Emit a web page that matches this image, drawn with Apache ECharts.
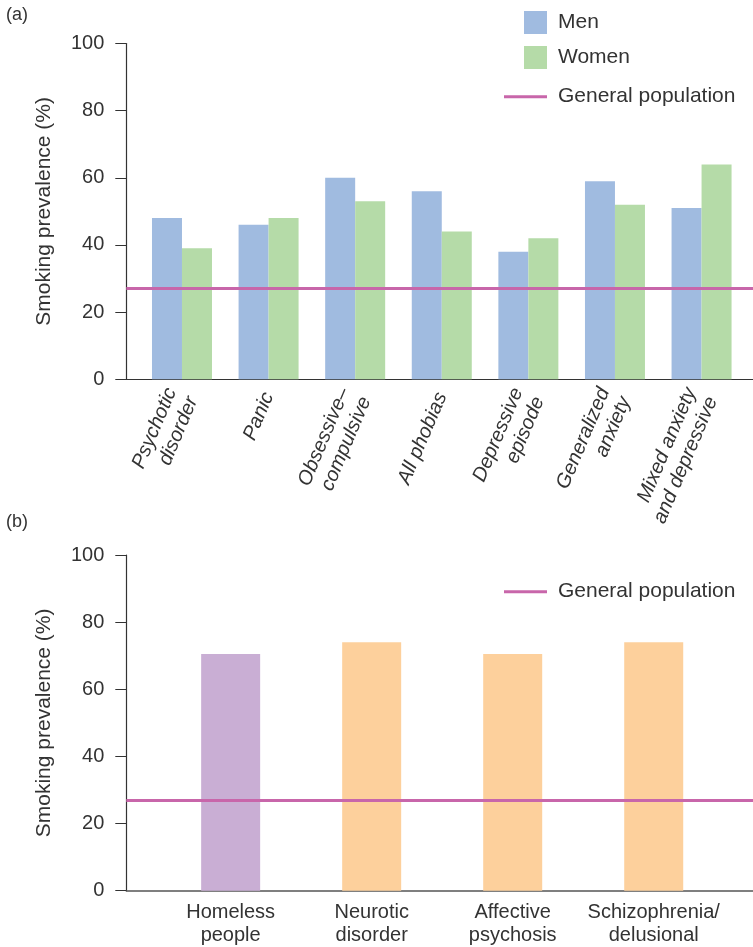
<!DOCTYPE html>
<html>
<head>
<meta charset="utf-8">
<script src="https://cdn.jsdelivr.net/npm/echarts@6/dist/echarts.min.js"></script>
<style>
html,body{margin:0;padding:0;background:#fff;}
#c{width:753px;height:947px;}
</style>
</head>
<body>
<div id="c"></div>
<script>
// ---- data ----
const topCategories = ['Psychotic\ndisorder', 'Panic', 'Obsessive–\ncompulsive', 'All phobias', 'Depressive\nepisode', 'Generalized\nanxiety', 'Mixed anxiety\nand depressive'];
const menValues = [48, 46, 60, 56, 38, 59, 51];
const womenValues = [39, 48, 53, 44, 42, 52, 64];
const bottomCategories = ['Homeless\npeople', 'Neurotic\ndisorder', 'Affective\npsychosis', 'Schizophrenia/\ndelusional'];
const bottomValues = [70.5, 74, 70.5, 74];
const generalPopulation = 27;
const yTicks = [0, 20, 40, 60, 80, 100];

// ---- styles ----
const C_MEN = '#a0bbe0', C_WOMEN = '#b5dba8', C_LINE = '#c866aa', C_PURPLE = '#c9aed4', C_ORANGE = '#fdd09c';
const SANS = '"Liberation Sans", "Noto Sans", sans-serif';
const TXT = '#333';

function yAxisCfg(gridIndex) {
  return {
    type: 'value', gridIndex, min: yTicks[0], max: yTicks[yTicks.length - 1], interval: 20,
    name: 'Smoking prevalence (%)', nameLocation: 'middle', nameGap: 72,
    nameTextStyle: { fontFamily: SANS, fontSize: 21, color: TXT },
    axisLine: { show: true, onZero: false, lineStyle: { color: '#333', width: 1.2 } },
    axisTick: { show: true, length: 11, lineStyle: { color: '#333' } },
    axisLabel: { margin: 22, fontFamily: SANS, fontSize: 20, color: TXT },
    splitLine: { show: false }
  };
}

function legendCfg(name, left, top, w, h, gap) {
  return { data: name, orient: 'vertical', left, top, padding: 0, itemWidth: w, itemHeight: h, itemGap: gap, icon: 'rect',
    textStyle: { fontFamily: SANS, fontSize: 21, lineHeight: 24, color: TXT, padding: [0, 0, 0, 6] }, selectedMode: false };
}

const chart = echarts.init(document.getElementById('c'), null, { renderer: 'canvas' });

const topIdx = topCategories.map((_, i) => i);
const botIdx = bottomCategories.map((_, i) => i);

chart.setOption({
  animation: false,
  backgroundColor: '#fff',
  title: [
    { text: '(a)', left: 6, top: 6, padding: 0, textStyle: { fontFamily: SANS, fontSize: 18, fontWeight: 'normal', color: TXT } },
    { text: '(b)', left: 6, top: 513, padding: 0, textStyle: { fontFamily: SANS, fontSize: 18, fontWeight: 'normal', color: TXT } }
  ],
  legend: [
    legendCfg(['Men', 'Women'], 524, 10.5, 23, 23, 11),
    legendCfg(['General population'], 504, 84.7, 43, 3, 10),
    legendCfg(['General population '], 504, 579.7, 43, 3, 10)
  ],
  grid: [
    { left: 126.3, right: 0, top: 43.5, bottom: 947 - 379.3 },
    { left: 126.3, right: 0, top: 555, bottom: 947 - 890.7 }
  ],
  xAxis: [
    { type: 'value', gridIndex: 0, min: -0.643, max: 6.594,
      axisLine: { show: true, onZero: false, lineStyle: { color: '#333', width: 1.2 } },
      axisTick: { show: false }, splitLine: { show: false },
      axisLabel: { customValues: topIdx, rotate: 67, margin: 14, fontFamily: SANS, fontStyle: 'italic', fontSize: 20, lineHeight: 23, color: TXT,
        formatter: v => topCategories[Math.round(v)] || '' } },
    { type: 'value', gridIndex: 1, min: -0.740, max: 3.704,
      axisLine: { show: true, onZero: false, lineStyle: { color: '#555', width: 1.5 } },
      axisTick: { show: false }, splitLine: { show: false },
      axisLabel: { customValues: botIdx, margin: 10, fontFamily: SANS, fontSize: 20, lineHeight: 23, color: TXT,
        formatter: v => bottomCategories[Math.round(v)] || '' } }
  ],
  yAxis: [yAxisCfg(0), yAxisCfg(1)],
  series: [
    { name: 'Men', type: 'bar', xAxisIndex: 0, yAxisIndex: 0, barWidth: 30, barGap: '0%',
      itemStyle: { color: C_MEN }, data: menValues.map((v, i) => [i, v]), z: 2 },
    { name: 'Women', type: 'bar', xAxisIndex: 0, yAxisIndex: 0, barWidth: 30, barGap: '0%',
      itemStyle: { color: C_WOMEN }, data: womenValues.map((v, i) => [i, v]), z: 2 },
    { name: 'General population', type: 'line', xAxisIndex: 0, yAxisIndex: 0, data: [],
      itemStyle: { color: C_LINE }, lineStyle: { color: C_LINE, width: 3 },
      markLine: { silent: true, symbol: 'none', label: { show: false },
        lineStyle: { color: C_LINE, width: 3, type: 'solid' }, data: [{ yAxis: generalPopulation }] }, z: 5 },
    { name: 'Prevalence', type: 'bar', xAxisIndex: 1, yAxisIndex: 1, barWidth: 59,
      itemStyle: { color: p => p.dataIndex === 0 ? C_PURPLE : C_ORANGE },
      data: bottomValues.map((v, i) => [i, v]), z: 2 },
    { name: 'General population ', type: 'line', xAxisIndex: 1, yAxisIndex: 1, data: [],
      itemStyle: { color: C_LINE }, lineStyle: { color: C_LINE, width: 3 },
      markLine: { silent: true, symbol: 'none', label: { show: false },
        lineStyle: { color: C_LINE, width: 3, type: 'solid' }, data: [{ yAxis: generalPopulation }] }, z: 5 }
  ]
});
</script>
</body>
</html>
